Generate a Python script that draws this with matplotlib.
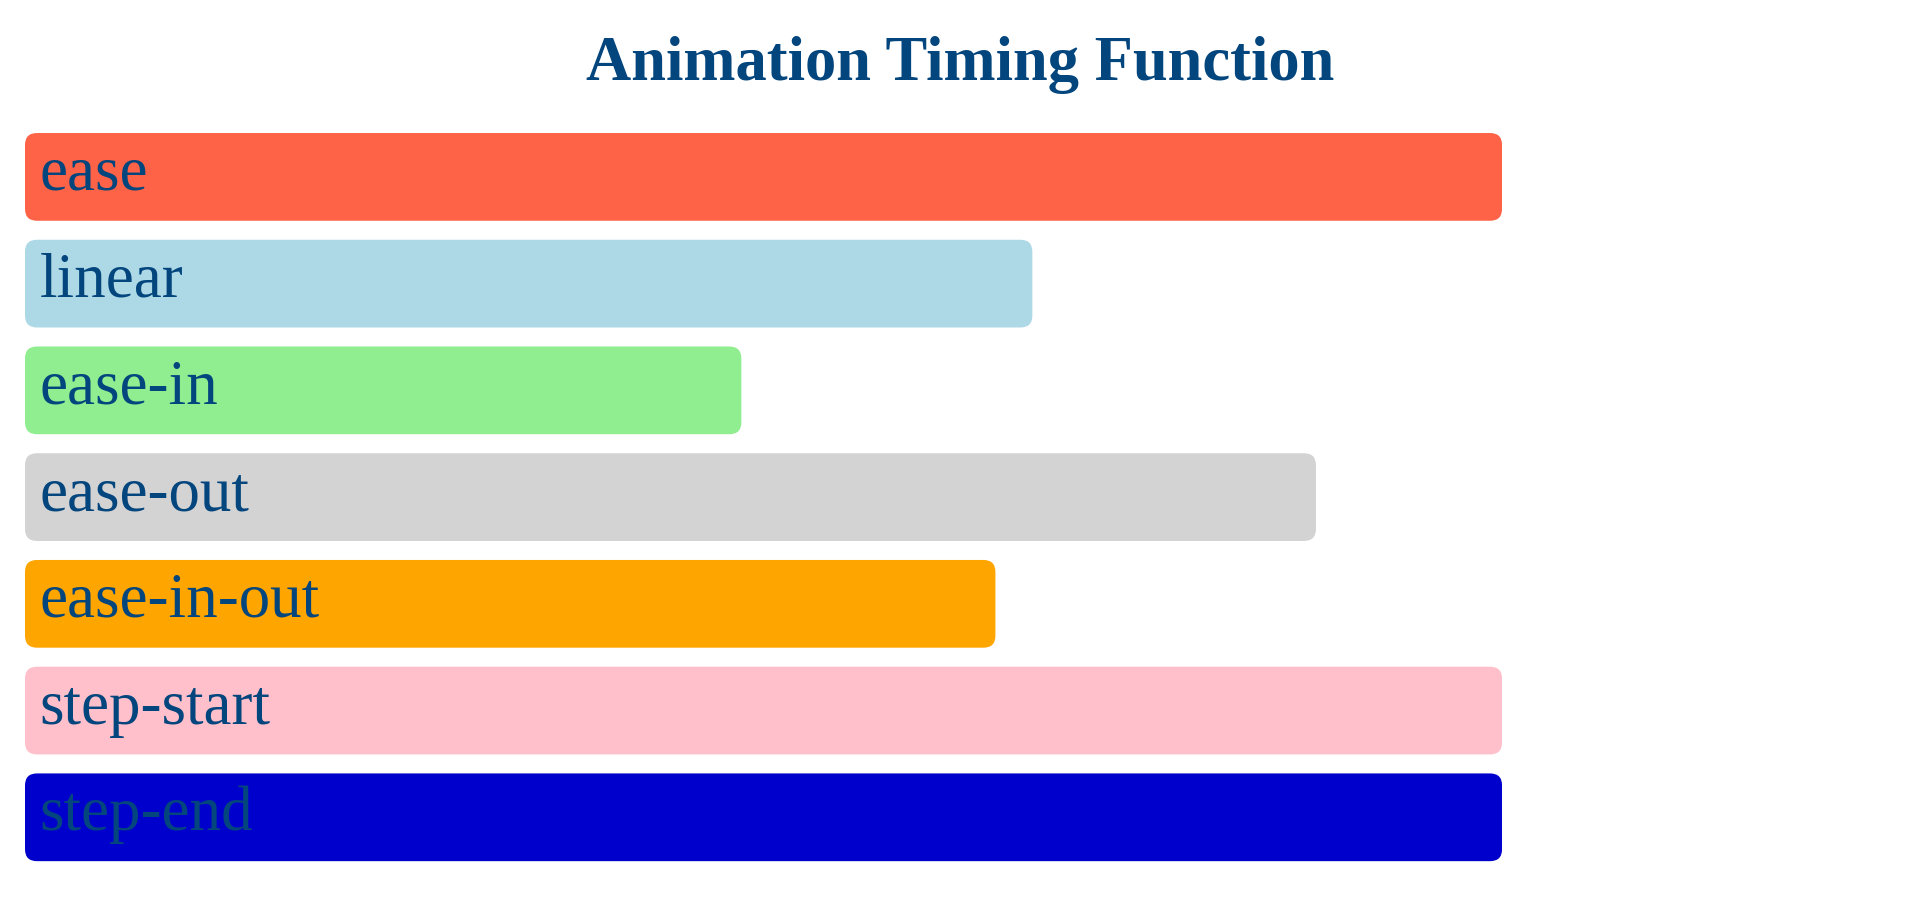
import matplotlib
matplotlib.use("Agg")
import matplotlib.pyplot as plt
from matplotlib.patches import FancyBboxPatch

# data
names = ["ease", "linear", "ease-in", "ease-out", "ease-in-out", "step-start", "step-end"]
values = [100, 68.2, 48.5, 87.4, 65.7, 100, 100]
colors = ["#FF6347", "#ADD8E6", "#90EE90", "#D3D3D3", "#FFA500", "#FFC0CB", "#0000CD"]

text_color = "#03457d"
serif = ["Liberation Serif", "DejaVu Serif"]

fig = plt.figure(figsize=(19.2, 9.03), dpi=100)
ax = fig.add_axes([0.01302, 0.0347, 0.7693, 0.8274])
ax.set_xlim(0, 100)
ax.set_ylim(len(names) - 0.5, -0.5)
ax.axis("off")

bar_h = 0.822
# px per data unit, used to keep the corner rounding circular
px_x = 1477 / 100
px_y = 106.7
radius_px = 12

bars = ax.barh(range(len(names)), values, height=bar_h, color="none")
for rect, c, name in zip(bars, colors, names):
    x, y = rect.get_x(), rect.get_y()
    w, h = rect.get_width(), rect.get_height()
    patch = FancyBboxPatch((x, y), w, h,
                           boxstyle=f"round,pad=0,rounding_size={radius_px / px_x}",
                           mutation_aspect=px_x / px_y,
                           facecolor=c, edgecolor="none")
    ax.add_patch(patch)
    ax.text(x + 14.8 / px_x, y + h / 2 + 12 / px_y, name, ha="left", va="baseline",
            fontsize=45.4, color=text_color, family=serif)

fig.text(0.5, 1 - 80 / 903, "Animation Timing Function", ha="center", va="baseline",
         fontsize=45, fontweight="bold", color=text_color, family=serif)

fig.savefig("out.png", dpi=100)
